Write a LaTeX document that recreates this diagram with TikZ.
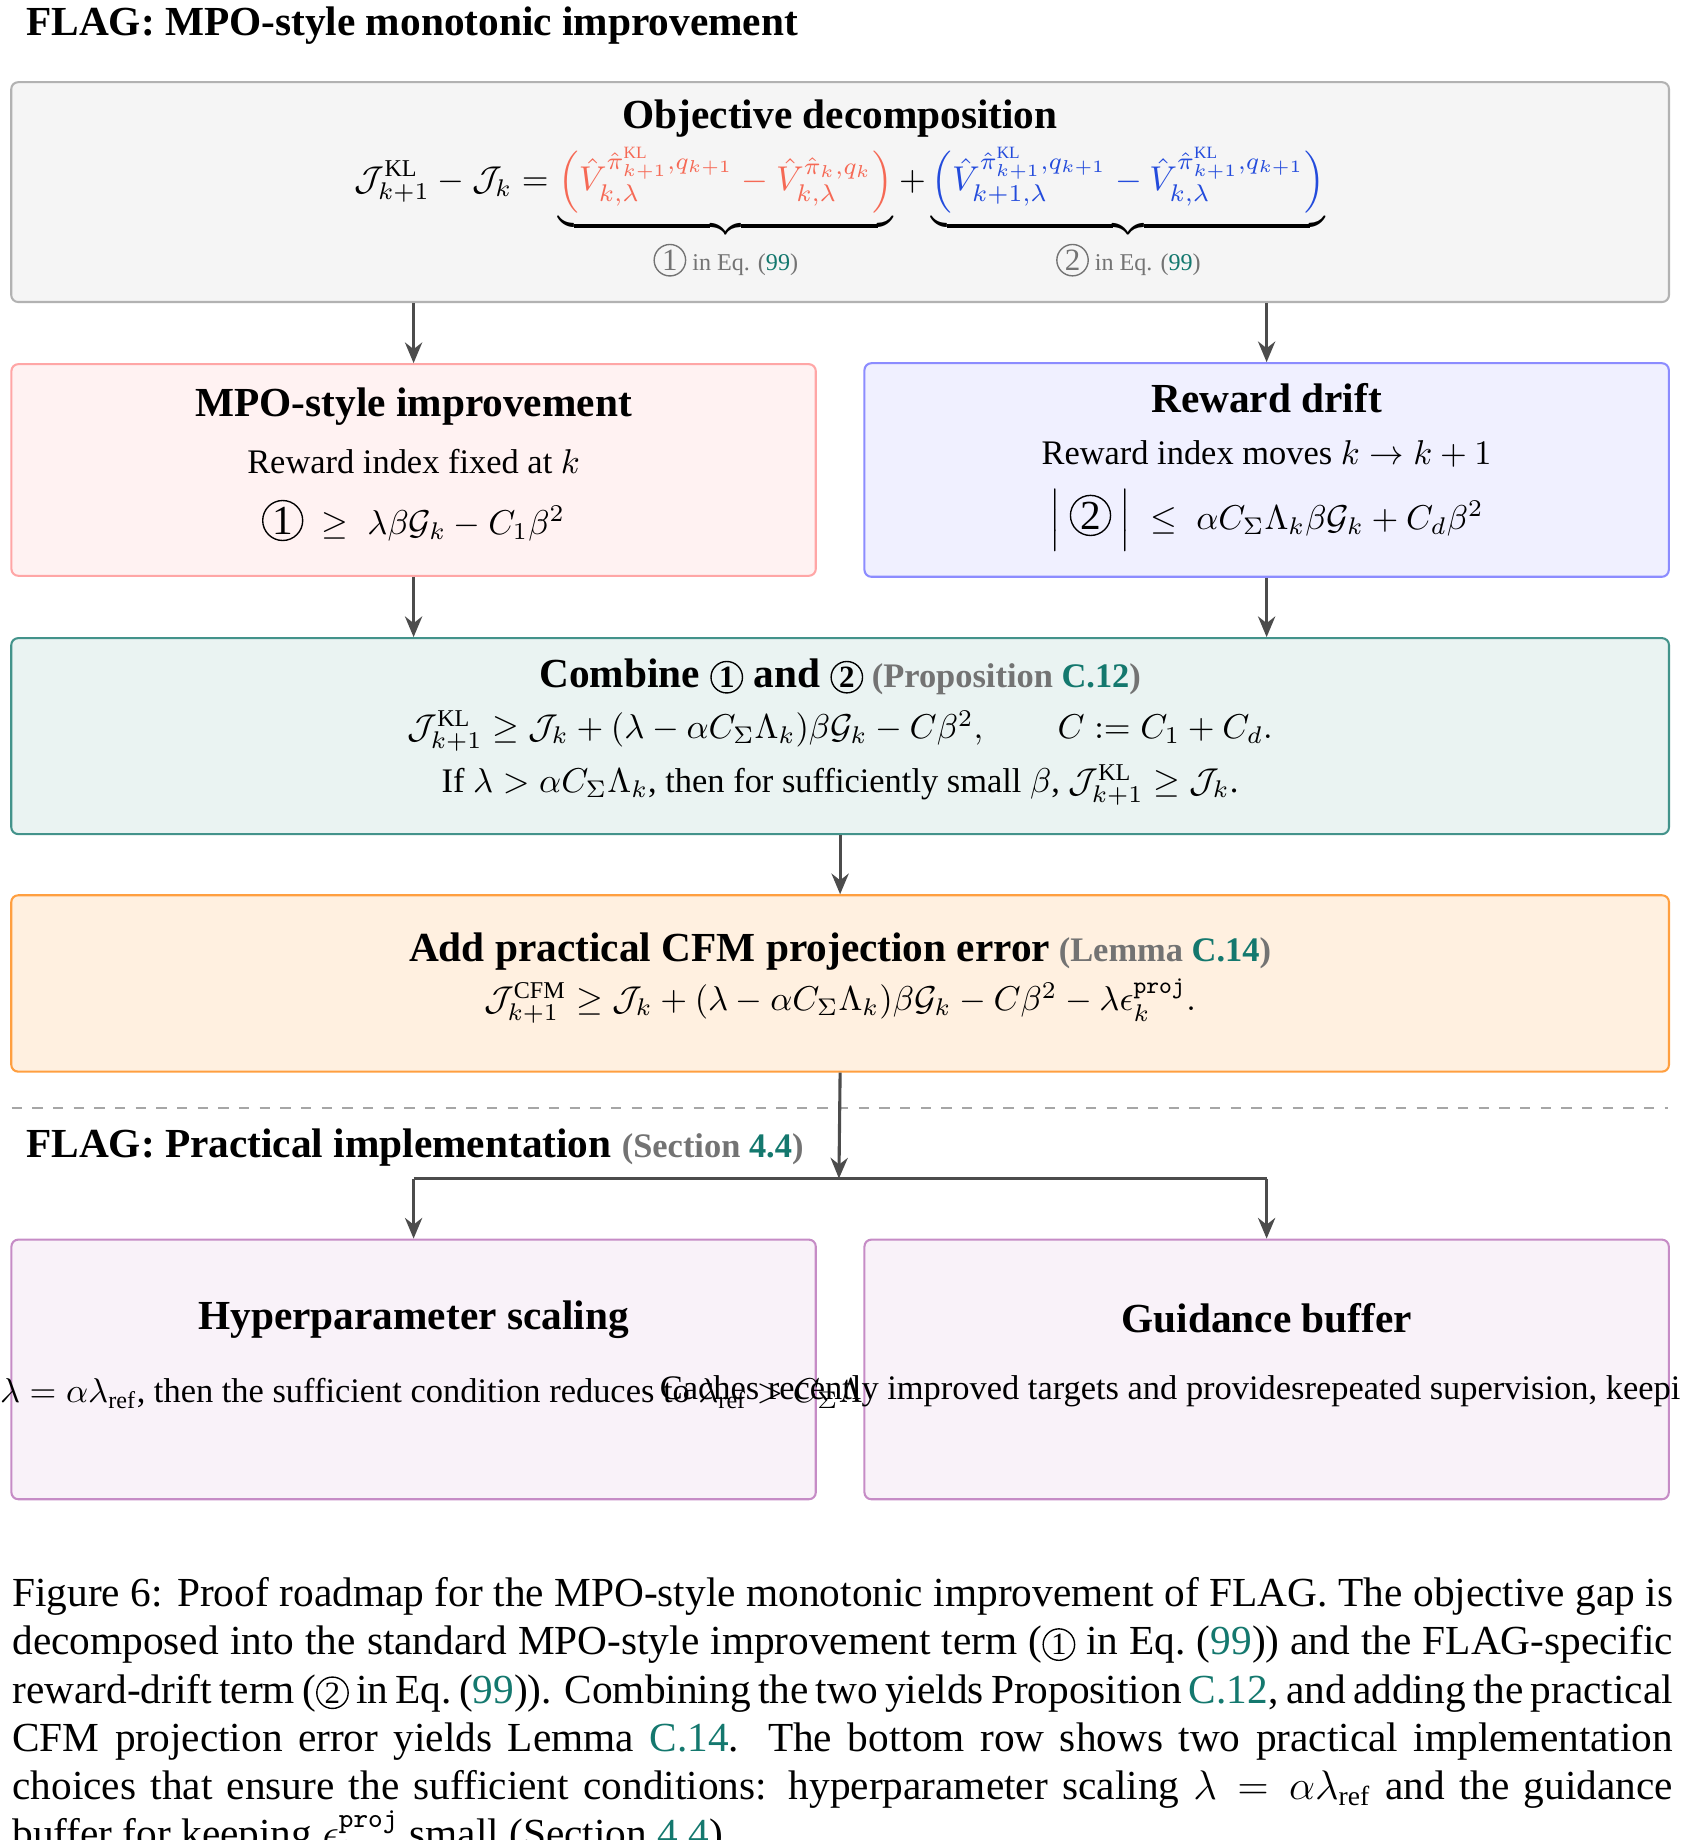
\documentclass[tikz,border=0pt]{standalone}
\usepackage{amsmath,amssymb}
\usepackage{fontspec}
\setmainfont{Liberation Serif}
\usetikzlibrary{arrows.meta,positioning}

\definecolor{refteal}{RGB}{20,120,110}
\definecolor{salmon}{RGB}{245,105,85}
\definecolor{royal}{RGB}{35,75,220}
\newcommand{\cnum}[1]{\tikz[baseline=(c.base)]\node[draw,circle,inner sep=0.6pt,font=\small] (c) {#1};}
\newcommand{\eqlink}[1]{(\textcolor{refteal}{#1})}

\begin{document}
\begin{tikzpicture}[x=0.012cm, y=-0.012cm, font=\normalsize]
    \tikzset{box/.style={draw, rounded corners=2pt, line width=0.6pt, align=center, minimum width=16.92cm}}
    \tikzset{half/.style={box, minimum width=8.21cm}}
    \tikzset{arrow/.style={-{Stealth[length=6pt,width=5pt]}, line width=0.9pt, draw=black!70}}
    \tikzset{head/.style={font=\bfseries\large, anchor=west}}

    \useasboundingbox (0,0) rectangle (1430,1566);

    \node [head] (top) at (12,22) {FLAG: MPO-style monotonic improvement};

    \node [box, fill=black!4, draw=black!30, minimum height=2.244cm] (obj) at (715,163.5) {};
    \node [font=\bfseries\large] (objt) at (715,101) {Objective decomposition};
    \node (obje) at (715,182) {$\displaystyle \mathcal{J}^{\mathrm{KL}}_{k+1}-\mathcal{J}_k=
      \underbrace{\color{salmon}\Bigl(\hat V^{\hat\pi^{\mathrm{KL}}_{k+1},q_{k+1}}_{k,\lambda}-\hat V^{\hat\pi_k,q_k}_{k,\lambda}\Bigr)}_{\text{\color{black!55}\cnum{1} in Eq. \eqlink{99}}}
      +\underbrace{\color{royal}\Bigl(\hat V^{\hat\pi^{\mathrm{KL}}_{k+1},q_{k+1}}_{k+1,\lambda}-\hat V^{\hat\pi^{\mathrm{KL}}_{k+1},q_{k+1}}_{k,\lambda}\Bigr)}_{\text{\color{black!55}\cnum{2} in Eq. \eqlink{99}}}$};

    \node [half, fill=red!5, draw=red!35, minimum height=2.16cm] (mpo) at (352,400) {};
    \node [font=\bfseries\large] at (352,346) {MPO-style improvement};
    \node at (352,393) {Reward index fixed at $k$};
    \node at (352,443) {\cnum{\large 1} $\;\ge\;\lambda\beta\mathcal{G}_k-C_1\beta^2$};

    \node [half, fill=blue!6, draw=blue!45, minimum height=2.18cm] (drift) at (1078,400) {};
    \node [font=\bfseries\large] at (1078,339) {Reward drift};
    \node at (1078,386) {Reward index moves $k\to k+1$};
    \node at (1078,443) {$\Bigl|$ \cnum{\large 2} $\Bigr|\;\le\;\alpha C_\Sigma\Lambda_k\beta\mathcal{G}_k+C_d\beta^2$};

    \node [box, fill=refteal!9, draw=refteal!80, minimum height=2.0cm] (comb) at (715,626.5) {};
    \node at (715,576) {\textbf{\large Combine \cnum{1} and \cnum{2}} {\color{black!55}\bfseries(Proposition \textcolor{refteal}{C.12})}};
    \node at (715,622) {$\mathcal{J}^{\mathrm{KL}}_{k+1}\ge\mathcal{J}_k+(\lambda-\alpha C_\Sigma\Lambda_k)\beta\mathcal{G}_k-C\beta^2,\qquad C:=C_1+C_d.$};
    \node at (715,668) {If $\lambda>\alpha C_\Sigma\Lambda_k$, then for sufficiently small $\beta$, $\mathcal{J}^{\mathrm{KL}}_{k+1}\ge\mathcal{J}_k$.};

    \node [box, fill=orange!12, draw=orange!75, minimum height=1.8cm] (cfm) at (715,837) {};
    \node at (715,810) {\textbf{\large Add practical CFM projection error} {\color{black!55}\bfseries(Lemma \textcolor{refteal}{C.14})}};
    \node at (715,852) {$\mathcal{J}^{\mathrm{CFM}}_{k+1}\ge\mathcal{J}_k+(\lambda-\alpha C_\Sigma\Lambda_k)\beta\mathcal{G}_k-C\beta^2-\lambda\epsilon^{\mathtt{proj}}_k.$};

    \draw [dashed, black!35, line width=0.6pt] (10,943) -- (1420,943);
    \node [head] (bot) at (12,977) {FLAG: Practical implementation {\normalsize\color{black!55}(Section \textcolor{refteal}{4.4})}};

    \node [half, fill=violet!5, draw=violet!45, minimum height=2.65cm] (hyp) at (352,1165.5) {};
    \node [font=\bfseries\large] at (352,1123) {Hyperparameter scaling};
    \node at (352,1186) {Set $\lambda=\alpha\lambda_{\mathrm{ref}}$, then the sufficient condition reduces to\\[2pt] $\lambda_{\mathrm{ref}}>C_\Sigma\Lambda_k$};

    \node [half, fill=violet!5, draw=violet!45, minimum height=2.65cm] (guide) at (1078,1165.5) {};
    \node [font=\bfseries\large] at (1078,1122) {Guidance buffer};
    \node at (1078,1182) {Caches recently improved targets and provides\\ repeated supervision, keeping $\epsilon^{\mathtt{proj}}_k$ small};

    \coordinate (split) at (714,1003);
    \draw [arrow] (obj.south -| mpo.north) -- (mpo.north);
    \draw [arrow] (obj.south -| drift.north) -- (drift.north);
    \draw [arrow] (mpo.south) -- (mpo.south |- comb.north);
    \draw [arrow] (drift.south) -- (drift.south |- comb.north);
    \draw [arrow] (comb.south -| cfm.north) -- (cfm.north);
    \draw [arrow] (cfm.south) -- (split);
    \draw [line width=0.9pt, draw=black!70] (hyp.north |- split) -- (guide.north |- split);
    \draw [arrow] (hyp.north |- split) -- (hyp.north);
    \draw [arrow] (guide.north |- split) -- (guide.north);

    \node [text width=16.95cm, align=justify, anchor=north west, inner sep=0pt, font=\large] (cap) at (10,1342) {Figure 6: Proof roadmap for the MPO-style monotonic improvement of FLAG. The objective gap is decomposed into the standard MPO-style improvement term (\cnum{1} in Eq.~\eqlink{99}) and the FLAG-specific reward-drift term (\cnum{2} in Eq.~\eqlink{99}). Combining the two yields Proposition \textcolor{refteal}{C.12}, and adding the practical CFM projection error yields Lemma \textcolor{refteal}{C.14}. The bottom row shows two practical implementation choices that ensure the sufficient conditions: hyperparameter scaling $\lambda=\alpha\lambda_{\mathrm{ref}}$ and the guidance buffer for keeping $\epsilon^{\mathtt{proj}}_k$ small (Section \textcolor{refteal}{4.4}).};
\end{tikzpicture}
\end{document}
